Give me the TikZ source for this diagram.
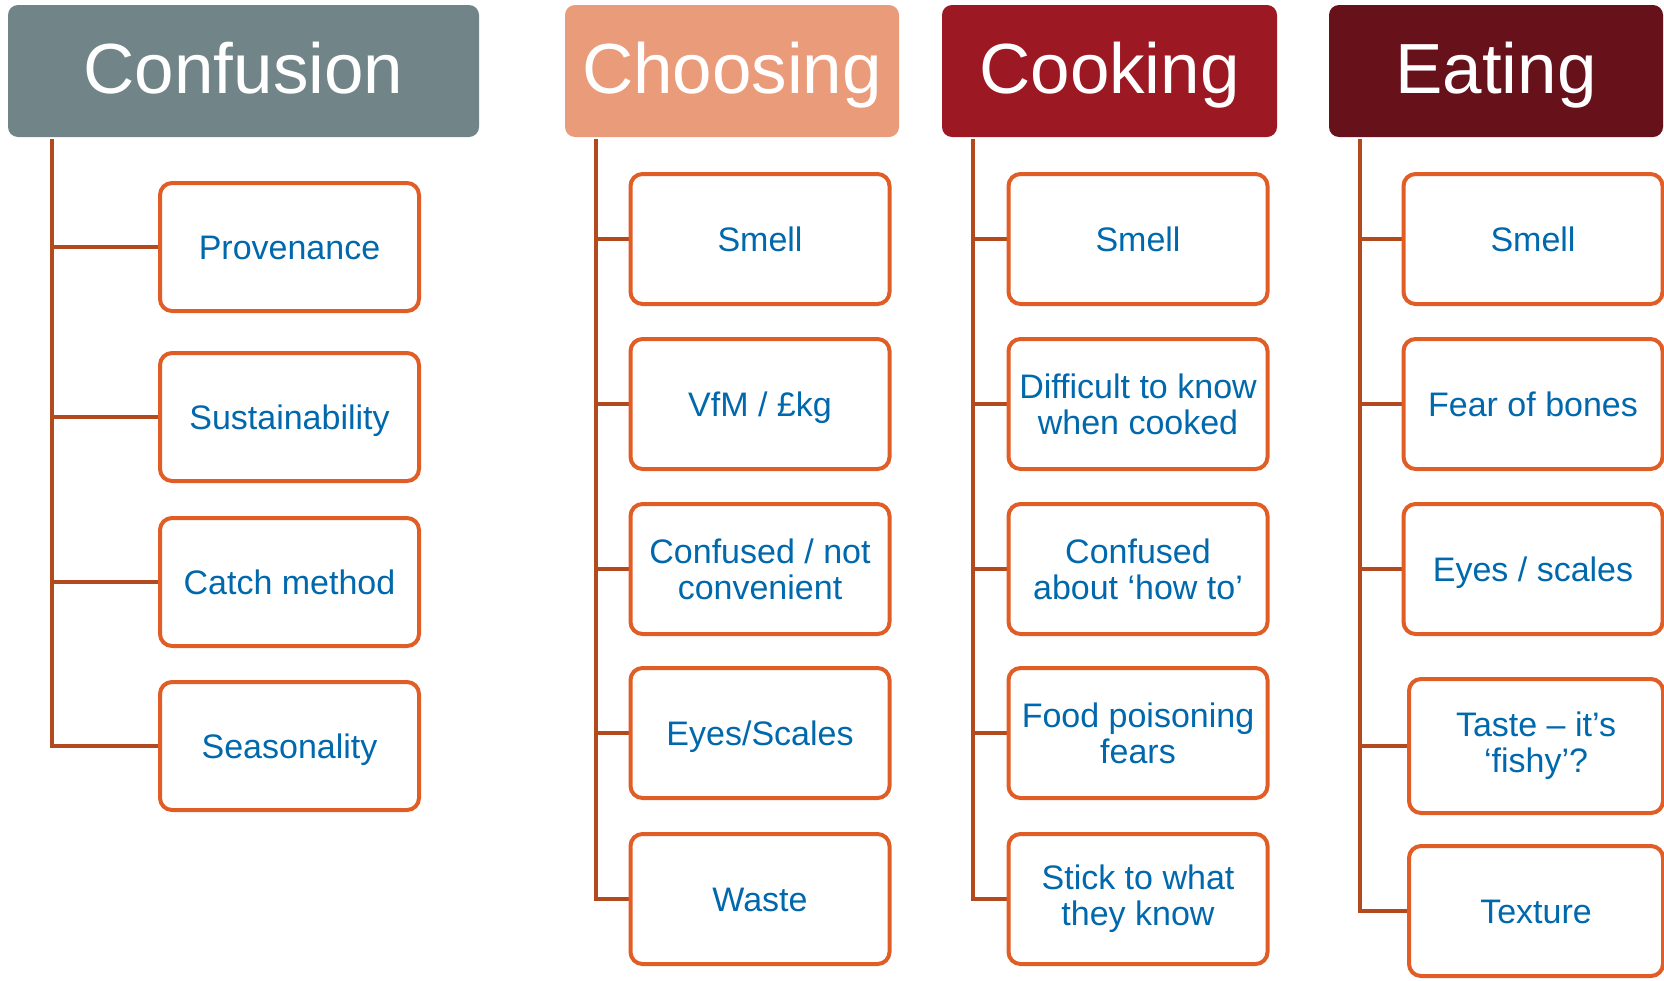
\documentclass[tikz,border=0pt]{standalone}
\usepackage{fontspec}
\setmainfont{Liberation Sans}
\usetikzlibrary{backgrounds}
\definecolor{cgray}{RGB}{113,133,137}
\definecolor{csalmon}{RGB}{234,155,122}
\definecolor{cred}{RGB}{156,25,36}
\definecolor{cdark}{RGB}{103,17,26}
\definecolor{boxor}{RGB}{225,93,38}
\definecolor{connor}{RGB}{178,74,30}
\definecolor{txtblue}{RGB}{0,104,172}
\begin{document}
\begin{tikzpicture}[x=1pt,y=-1pt,
  hdr/.style={fill=#1, rounded corners=10pt, inner sep=0pt, minimum height=132pt,
    text=white, font=\fontsize{71}{71}\selectfont, text height=44pt, text depth=0pt},
  itembox/.style={draw=boxor, line width=4pt, rounded corners=12pt, fill=white,
    minimum width=259pt, minimum height=130pt, inner sep=0pt, text=txtblue,
    font=\fontsize{34}{36}\selectfont, align=center},
  oneline/.style={text height=24pt, text depth=0pt},
  conn/.style={draw=connor, line width=4.5pt}]
\useasboundingbox (0,0) rectangle (1664,980);
\clip (0,0) rectangle (1664,980);
% headers
\node[hdr=cgray, minimum width=471pt] (h1) at (243.5,71) {Confusion};
\node[hdr=csalmon, minimum width=334pt] (h2) at (732,71) {Choosing};
\node[hdr=cred, minimum width=335pt] (h3) at (1109.5,71) {Cooking};
\node[hdr=cdark, minimum width=334pt] (h4) at (1496,71) {Eating};
% Confusion
\node[itembox, oneline, minimum height=128pt] (a1) at (289.5,247) {Provenance};
\node[itembox, oneline, minimum height=128pt] (a2) at (289.5,417) {Sustainability};
\node[itembox, oneline, minimum height=128pt] (a3) at (289.5,582) {Catch method};
\node[itembox, oneline, minimum height=128pt] (a4) at (289.5,746) {Seasonality};
% Choosing
\node[itembox, oneline] (b1) at (760,239) {Smell};
\node[itembox, oneline] (b2) at (760,404) {VfM / £kg};
\node[itembox] (b3) at (760,569) {Confused / not\\convenient};
\node[itembox, oneline] (b4) at (760,733) {Eyes/Scales};
\node[itembox, oneline] (b5) at (760,899) {Waste};
% Cooking
\node[itembox, oneline] (c1) at (1138,239) {Smell};
\node[itembox] (c2) at (1138,404) {Difficult to know\\when cooked};
\node[itembox] (c3) at (1138,569) {Confused\\about ‘how to’};
\node[itembox] (c4) at (1138,733) {Food poisoning\\fears};
\node[itembox] (c5) at (1138,899) {Stick to what\\they know};
% Eating
\node[itembox, oneline] (d1) at (1533,239) {Smell};
\node[itembox, oneline] (d2) at (1533,404) {Fear of bones};
\node[itembox, oneline] (d3) at (1533,569) {Eyes / scales};
\node[itembox, minimum width=254pt, minimum height=134pt] (d4) at (1536,746) {Taste – it’s\\‘fishy’?};
\node[itembox, oneline, minimum width=254pt] (d5) at (1536,911) {Texture};
% connectors
\coordinate (v1) at ([xshift=44pt,yshift=-2pt]h1.south west);
\coordinate (v2) at ([xshift=31pt,yshift=-2pt]h2.south west);
\coordinate (v3) at ([xshift=31pt,yshift=-2pt]h3.south west);
\coordinate (v4) at ([xshift=31pt,yshift=-2pt]h4.south west);
\begin{pgfonlayer}{background}
\foreach \n in {a1,a2,a3,a4} \draw[conn] (v1) |- (\n.west);
\foreach \n in {b1,b2,b3,b4,b5} \draw[conn] (v2) |- (\n.west);
\foreach \n in {c1,c2,c3,c4,c5} \draw[conn] (v3) |- (\n.west);
\foreach \n in {d1,d2,d3,d4,d5} \draw[conn] (v4) |- (\n.west);
\end{pgfonlayer}
\end{tikzpicture}
\end{document}
